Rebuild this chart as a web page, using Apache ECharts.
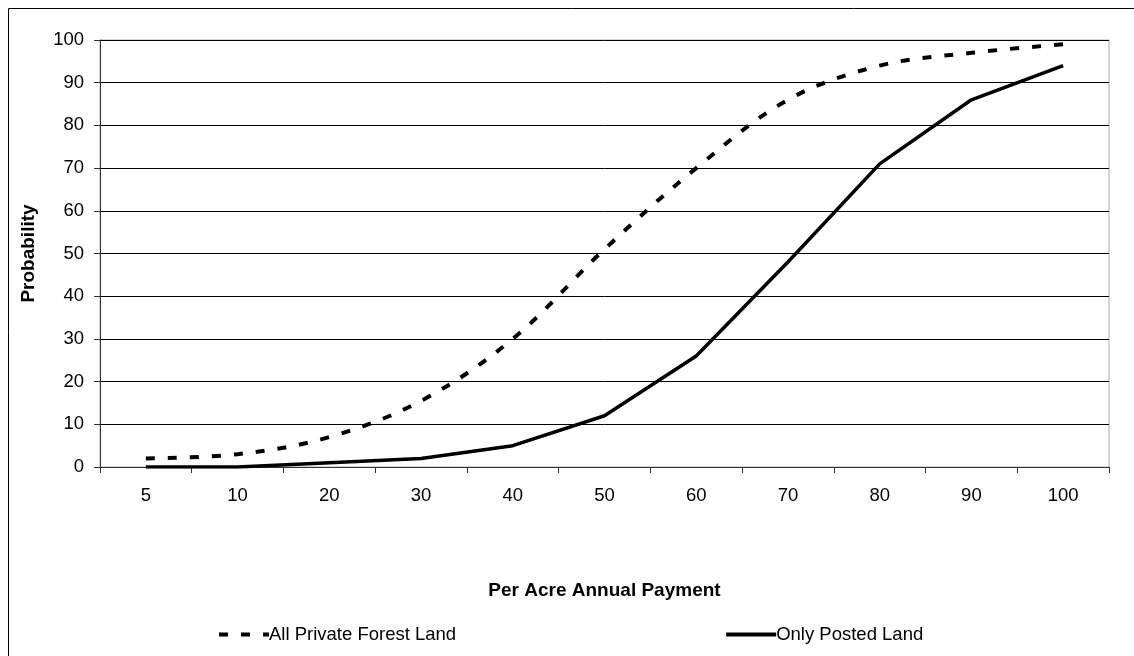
<!DOCTYPE html>
<html>
<head>
<meta charset="utf-8">
<script src="https://cdn.jsdelivr.net/npm/echarts@6/dist/echarts.min.js"></script>
<style>
  html, body { margin: 0; padding: 0; background: #fff; }
  #chart { width: 1134px; height: 656px; }
</style>
</head>
<body>
<div id="chart"></div>
<script>
// payment categories and probabilities
var payments = ['5', '10', '20', '30', '40', '50', '60', '70', '80', '90', '100'];
var allPrivate = [2, 3, 7, 15.5, 30, 51, 70, 86, 94, 97, 99];
var onlyPosted = [0, 0, 1, 2, 5, 12, 26, 48, 71, 86, 94];

var font = 'Liberation Sans, Arial, sans-serif';
var chart = echarts.init(document.getElementById('chart'));
var option = {
    animation: false,
    backgroundColor: '#fff',
    graphic: [{
        type: 'rect',
        shape: {x: 8.5, y: 8.5, width: 1130, height: 660},
        style: {fill: 'none', stroke: '#000', lineWidth: 1},
        silent: true
    }],
    legend: {
        left: 212,
        top: 620,
        itemWidth: 50,
        itemHeight: 14,
        itemGap: 268,
        itemStyle: {opacity: 0},
        lineStyle: {width: 4},
        textStyle: {fontFamily: font, fontSize: 18.5, color: '#000', padding: [0, 0, 0, -5]},
        data: ['All Private Forest Land', 'Only Posted Land']
    },
    grid: {
        left: 100,
        right: 25,
        top: 40,
        bottom: 189,
        show: true,
        borderColor: '#aaa',
        borderWidth: 1
    },
    xAxis: {
        type: 'category',
        data: payments,
        boundaryGap: true,
        name: 'Per Acre Annual Payment',
        nameLocation: 'middle',
        nameGap: 114,
        nameTextStyle: {fontFamily: font, fontSize: 19, fontWeight: 'bold', color: '#000'},
        axisLine: {lineStyle: {color: '#333', width: 1}},
        axisTick: {show: true, interval: 0, length: 6, lineStyle: {color: '#333'}},
        axisLabel: {fontFamily: font, fontSize: 18.5, color: '#000', margin: 19, interval: 0}
    },
    yAxis: {
        type: 'value',
        min: 0,
        max: 100,
        interval: 10,
        name: 'Probability',
        nameLocation: 'middle',
        nameGap: 62,
        nameRotate: 90,
        nameTextStyle: {fontFamily: font, fontSize: 19, fontWeight: 'bold', color: '#000'},
        axisLine: {show: true, lineStyle: {color: '#333', width: 1}},
        axisTick: {show: true, length: 6, lineStyle: {color: '#333'}},
        axisLabel: {fontFamily: font, fontSize: 18.5, color: '#000', margin: 16},
        splitLine: {lineStyle: {color: '#000', width: 1}}
    },
    series: [
        {
            name: 'All Private Forest Land',
            type: 'line',
            data: allPrivate,
            smooth: 0.35,
            symbol: 'none',
            itemStyle: {color: '#000'},
            lineStyle: {color: '#000', width: 4, type: [9, 13]}
        },
        {
            name: 'Only Posted Land',
            type: 'line',
            data: onlyPosted,
            symbol: 'none',
            itemStyle: {color: '#000'},
            lineStyle: {color: '#000', width: 3.5}
        }
    ]
};
chart.setOption(option);
</script>
</body>
</html>
